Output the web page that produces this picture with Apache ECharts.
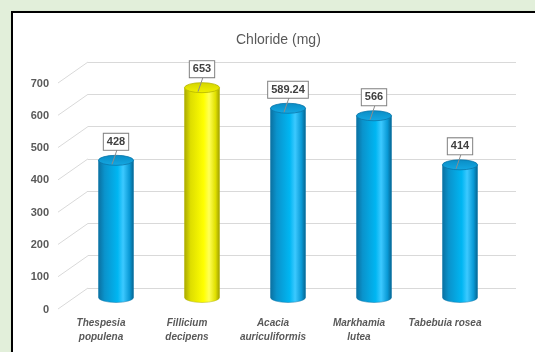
<!DOCTYPE html>
<html>
<head>
<meta charset="utf-8">
<script src="https://cdn.jsdelivr.net/npm/echarts@6/dist/echarts.min.js"></script>
<style>
  html, body { margin: 0; padding: 0; background: #e2efda; overflow: hidden; }
  #frame {
    position: absolute; left: 11px; top: 11px; width: 620px; height: 420px;
    background: #fff; border-left: 2.5px solid #000; border-top: 2.5px solid #000;
    box-shadow: 1px 1px 2px rgba(0,0,0,0.35);
  }
  #chart { position: absolute; left: 0; top: 0; width: 535px; height: 352px; }
</style>
</head>
<body>
<div id="frame"></div>
<div id="chart"></div>
<script>
// Species measured and their chloride content (mg)
const categories = [
  'Thespesia\npopulena',
  'Fillicium\ndecipens',
  'Acacia\nauriculiformis',
  'Markhamia\nlutea',
  'Tabebuia rosea'
];
const chloride = [428, 653, 589.24, 566, 414];
const yTicks = [0, 100, 200, 300, 400, 500, 600, 700];

// Perspective shift between the floor's front edge, the bar plane and the back wall
const DX = 15, DY = 10.5;
const FONT = '"Liberation Sans", Arial, sans-serif';

const BLUE = {
  body: [
    { offset: 0, color: '#0b6f9f' },
    { offset: 0.18, color: '#0a93cc' },
    { offset: 0.55, color: '#00b6f2' },
    { offset: 0.7, color: '#3cc9ff' },
    { offset: 0.88, color: '#0a9ad6' },
    { offset: 1, color: '#06628d' }
  ],
  top: ['#0a8cc4', '#14a9e4'], rim: '#0b76aa'
};
const YELLOW = {
  body: [
    { offset: 0, color: '#a8a800' },
    { offset: 0.18, color: '#dede00' },
    { offset: 0.55, color: '#ffff00' },
    { offset: 0.7, color: '#ffff55' },
    { offset: 0.88, color: '#e0e000' },
    { offset: 1, color: '#9c9c00' }
  ],
  top: ['#d4d400', '#f2f200'], rim: '#b5b500'
};

function renderCylinder(params, api) {
  const idx = api.value(0);
  const val = api.value(1);
  const top = api.coord([idx, val]);
  const base = api.coord([idx, 0]);
  const cx = top[0];
  const rx = 17.5, ry = 5;
  const xl = cx - rx, xr = cx + rx;
  const yt = top[1], yb = base[1] - 1;
  const pal = idx === 1 ? YELLOW : BLUE;
  const bodyPath = `M${xl},${yt} L${xl},${yb} A${rx},${ry} 0 0 0 ${xr},${yb} L${xr},${yt} Z`;
  const topPath = `M${xl},${yt} A${rx},${ry} 0 1 0 ${xr},${yt} A${rx},${ry} 0 1 0 ${xl},${yt} Z`;
  const labelY = yt - 18.5;
  return {
    type: 'group',
    children: [
      {
        type: 'path',
        shape: { pathData: bodyPath },
        style: {
          fill: { type: 'linear', x: 0, y: 0, x2: 1, y2: 0, colorStops: pal.body },
          stroke: pal.rim, lineWidth: 0.5
        }
      },
      {
        type: 'path',
        shape: { pathData: topPath },
        style: {
          fill: {
            type: 'linear', x: 0, y: 0, x2: 0, y2: 1,
            colorStops: [{ offset: 0, color: pal.top[0] }, { offset: 1, color: pal.top[1] }]
          },
          stroke: pal.rim, lineWidth: 0.8
        }
      },
      {
        type: 'line',
        shape: { x1: cx + 1, y1: labelY + 8, x2: cx - 4, y2: yt + 4 },
        style: { stroke: '#8c8c8c', lineWidth: 1 }
      },
      {
        type: 'text',
        style: {
          text: String(val),
          x: cx, y: labelY,
          align: 'center', verticalAlign: 'middle',
          font: 'bold 11px ' + FONT,
          fill: '#404040',
          backgroundColor: '#ffffff',
          borderColor: '#808080', borderWidth: 1,
          padding: [3, 3, 2, 3]
        }
      }
    ]
  };
}

function renderDiagonal(params, api) {
  const y = api.coord([0, api.value(1)])[1];
  const x0 = params.coordSys.x;
  return {
    type: 'line',
    shape: { x1: x0 - DX, y1: y + DY, x2: x0 + DX, y2: y - DY },
    style: { stroke: '#d9d9d9', lineWidth: 1 }
  };
}

const chart = echarts.init(document.getElementById('chart'), null, { renderer: 'canvas' });

const hiddenCat = { type: 'category', data: categories, show: false };
const hiddenVal = { type: 'value', min: 0, max: 700, interval: 100, show: false };

chart.setOption({
  backgroundColor: 'transparent',
  animation: false,
  title: {
    text: 'Chloride (mg)',
    left: 231, top: 28,
    textStyle: { fontFamily: FONT, fontSize: 14, fontWeight: 'normal', color: '#595959' }
  },
  grid: [
    // back wall
    { left: 88, right: 19, top: 62, bottom: 64 },
    // front edge of the floor
    { left: 58, right: 47, top: 83.5, bottom: 42.5 },
    // plane through the cylinders' axes
    { left: 73, right: 32, top: 72.5, bottom: 53.5 }
  ],
  xAxis: [
    Object.assign({}, hiddenCat, { gridIndex: 0 }),
    {
      type: 'category', gridIndex: 1, data: categories,
      axisLine: { show: false }, axisTick: { show: false },
      axisLabel: {
        margin: 7, interval: 0,
        fontFamily: FONT, fontSize: 10, fontWeight: 'bold', fontStyle: 'italic',
        color: '#595959', lineHeight: 14
      }
    },
    Object.assign({}, hiddenCat, { gridIndex: 2 })
  ],
  yAxis: [
    {
      type: 'value', gridIndex: 0, min: 0, max: 700, interval: 100,
      axisLine: { show: false }, axisTick: { show: false }, axisLabel: { show: false },
      splitLine: { show: true, lineStyle: { color: '#d9d9d9', width: 1 } }
    },
    {
      type: 'value', gridIndex: 1, min: 0, max: 700, interval: 100,
      axisLine: { show: false }, axisTick: { show: false }, splitLine: { show: false },
      axisLabel: {
        margin: 9, fontFamily: FONT, fontSize: 11, fontWeight: 'bold', color: '#595959'
      }
    },
    Object.assign({}, hiddenVal, { gridIndex: 2 })
  ],
  series: [
    {
      type: 'custom', xAxisIndex: 2, yAxisIndex: 2,
      renderItem: renderDiagonal,
      data: yTicks.map(v => [0, v]),
      silent: true, z: 1
    },
    {
      type: 'custom', xAxisIndex: 2, yAxisIndex: 2,
      renderItem: renderCylinder,
      data: chloride.map((v, i) => [i, v]),
      z: 5
    }
  ]
});
</script>
</body>
</html>
